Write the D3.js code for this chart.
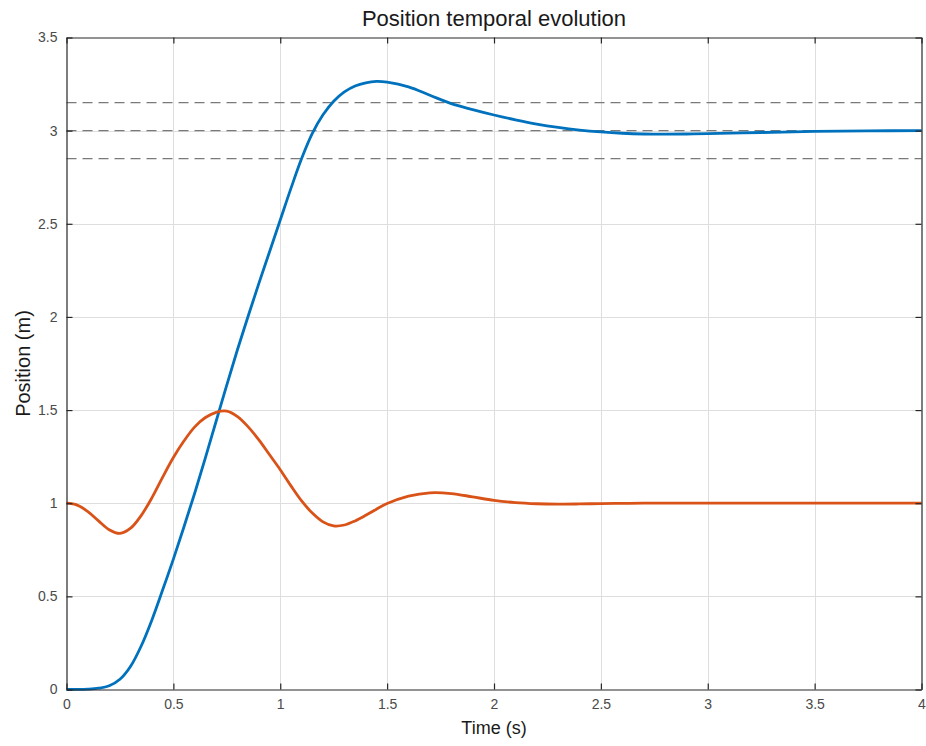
<!DOCTYPE html>
<html>
<head>
<meta charset="utf-8">
<script src="https://cdn.jsdelivr.net/npm/d3@7"></script>
<style>
  html, body { margin: 0; padding: 0; background: #fff; }
  svg { display: block; font-family: "Liberation Sans", Arial, Helvetica, sans-serif; }
</style>
</head>
<body>
<svg id="chart" width="926" height="746"></svg>
<script>
// Sample times (s)
const time = [0, 0.05, 0.1, 0.15, 0.2, 0.25, 0.3, 0.35, 0.4, 0.45, 0.5, 0.55, 0.6, 0.65, 0.7,
  0.75, 0.8, 0.85, 0.9, 0.95, 1.0, 1.05, 1.1, 1.15, 1.2, 1.25, 1.3, 1.35, 1.4, 1.45, 1.5,
  1.6, 1.7, 1.8, 1.9, 2.0, 2.1, 2.2, 2.3, 2.4, 2.5, 2.6, 2.7, 2.8, 2.9, 3.0, 3.25, 3.5, 3.75, 4.0];

// Position of the first body (m)
const positionA = [0, 0.0003, 0.002, 0.007, 0.02, 0.055, 0.125, 0.235, 0.375, 0.535, 0.70, 0.875, 1.055, 1.245, 1.44,
  1.635, 1.825, 2.005, 2.18, 2.35, 2.52, 2.69, 2.85, 2.985, 3.085, 3.158, 3.208, 3.24, 3.257, 3.264, 3.26,
  3.235, 3.19, 3.145, 3.113, 3.084, 3.058, 3.035, 3.017, 3.003, 2.993, 2.986, 2.982, 2.981, 2.982, 2.984, 2.99, 2.996, 2.999, 3.0];

// Position of the second body (m)
const positionB = [1.0, 0.99, 0.955, 0.905, 0.858, 0.838, 0.866, 0.935, 1.03, 1.14, 1.245, 1.335, 1.41, 1.46, 1.488,
  1.494, 1.465, 1.41, 1.34, 1.26, 1.18, 1.093, 1.012, 0.947, 0.9, 0.878, 0.883, 0.905, 0.935, 0.968, 0.998,
  1.038, 1.056, 1.052, 1.034, 1.015, 1.003, 0.997, 0.995, 0.996, 0.998, 0.999, 1.0, 1.0, 1.0, 1.0, 1.0, 1.0, 1.0, 1.0];

// Settling band: target and ±5 %
const bandLevels = [2.85, 3.0, 3.15];

const xTicks = [0, 0.5, 1, 1.5, 2, 2.5, 3, 3.5, 4];
const yTicks = [0, 0.5, 1, 1.5, 2, 2.5, 3, 3.5];

const titleText = "Position temporal evolution";
const xLabelText = "Time (s)";
const yLabelText = "Position (m)";

const svg = d3.select("#chart");
const W = 926, H = 746;
const margin = { left: 66.5, right: W - 921.5, top: 37.5, bottom: H - 689.5 };
const x0 = margin.left, x1 = W - margin.right, y0 = H - margin.bottom, y1 = margin.top;

const x = d3.scaleLinear().domain([0, 4]).range([x0, x1]);
const y = d3.scaleLinear().domain([0, 3.5]).range([y0, y1]);

// Grid
const grid = svg.append("g").attr("stroke", "#dedede").attr("stroke-width", 1);
grid.selectAll("line.gx").data(xTicks.slice(1, -1)).join("line")
  .attr("x1", d => Math.round(x(d)) + 0.5).attr("x2", d => Math.round(x(d)) + 0.5)
  .attr("y1", y1).attr("y2", y0);
grid.selectAll("line.gy").data(yTicks.slice(1, -1)).join("line")
  .attr("y1", d => Math.round(y(d)) + 0.5).attr("y2", d => Math.round(y(d)) + 0.5)
  .attr("x1", x0).attr("x2", x1);

// Band lines
svg.append("g").selectAll("line").data(bandLevels).join("line")
  .attr("x1", x0).attr("x2", x1)
  .attr("y1", d => y(d)).attr("y2", d => y(d))
  .attr("stroke", "#7a7a7a").attr("stroke-width", 1.2)
  .attr("stroke-dasharray", "10,6");

// Curves
const line = d3.line().curve(d3.curveCatmullRom.alpha(0.5));
const ptsA = time.map((t, i) => [x(t), y(positionA[i])]);
const ptsB = time.map((t, i) => [x(t), y(positionB[i])]);

svg.append("path").attr("d", line(ptsA)).attr("fill", "none")
  .attr("stroke", "#0072BD").attr("stroke-width", 2.8).attr("stroke-linejoin", "round");
svg.append("path").attr("d", line(ptsB)).attr("fill", "none")
  .attr("stroke", "#D95319").attr("stroke-width", 2.8).attr("stroke-linejoin", "round");

// Axes (box with inward ticks on all sides)
const tickLen = 6;
const axisColor = "#262626";
const labelColor = "#4a4a4a";

const xAxisB = d3.axisBottom(x).tickValues(xTicks).tickSizeInner(-tickLen).tickSizeOuter(0).tickPadding(10)
  .tickFormat(d3.format("~g"));
const xAxisT = d3.axisTop(x).tickValues(xTicks).tickSizeInner(-tickLen).tickSizeOuter(0).tickFormat("");
const yAxisL = d3.axisLeft(y).tickValues(yTicks).tickSizeInner(-tickLen).tickSizeOuter(0).tickPadding(9)
  .tickFormat(d3.format("~g"));
const yAxisR = d3.axisRight(y).tickValues(yTicks).tickSizeInner(-tickLen).tickSizeOuter(0).tickFormat("");

function styleAxis(g) {
  g.select(".domain").attr("stroke", axisColor).attr("stroke-width", 1.2);
  g.selectAll(".tick line").attr("stroke", axisColor).attr("stroke-width", 1.2);
  g.selectAll(".tick text").attr("fill", labelColor).style("font-size", "14px")
    .style("font-family", "'Liberation Sans', Arial, sans-serif");
}

svg.append("g").attr("transform", `translate(0,${y0})`).call(xAxisB).call(styleAxis);
svg.append("g").attr("transform", `translate(0,${y1})`).call(xAxisT).call(styleAxis);
svg.append("g").attr("transform", `translate(${x0},0)`).call(yAxisL).call(styleAxis);
svg.append("g").attr("transform", `translate(${x1},0)`).call(yAxisR).call(styleAxis);

// Title and axis labels
svg.append("text").attr("x", (x0 + x1) / 2).attr("y", 26)
  .attr("text-anchor", "middle").attr("fill", "#1a1a1a")
  .style("font-size", "22px").text(titleText);

svg.append("text").attr("x", (x0 + x1) / 2).attr("y", 734)
  .attr("text-anchor", "middle").attr("fill", "#1a1a1a")
  .style("font-size", "18px").text(xLabelText);

svg.append("text").attr("transform", `translate(30,${(y0 + y1) / 2}) rotate(-90)`)
  .attr("text-anchor", "middle").attr("fill", "#1a1a1a")
  .style("font-size", "20px").text(yLabelText);
</script>
</body>
</html>
